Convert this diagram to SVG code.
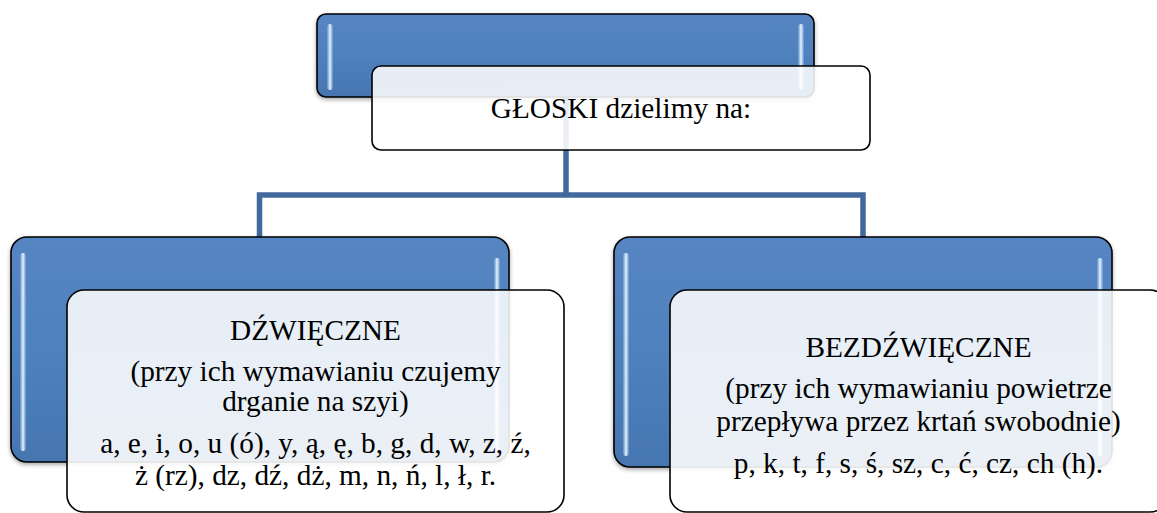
<svg xmlns="http://www.w3.org/2000/svg" width="1157" height="513" viewBox="0 0 1157 513">
<style>
.blue{fill:url(#gBlue);stroke:#000;stroke-width:1.6;filter:url(#sh)}
.hl{fill:url(#gHl)}
.white{fill:url(#gWhite);stroke:#000;stroke-width:1.6}
.conn{fill:none;stroke:#41699b;stroke-width:5.5;stroke-linejoin:miter}
.t{font-family:'Liberation Serif','DejaVu Serif',serif;font-size:29.3px;fill:#000;text-anchor:middle}
</style>
<defs>
<linearGradient id="gBlue" x1="0" y1="0" x2="0" y2="1">
<stop offset="0" stop-color="#5585c2"/>
<stop offset="0.5" stop-color="#4f81bd"/>
<stop offset="1" stop-color="#4676b0"/>
</linearGradient>
<linearGradient id="gHl" x1="0" y1="0" x2="1" y2="0">
<stop offset="0" stop-color="#9cc4ee" stop-opacity="0.3"/>
<stop offset="0.5" stop-color="#eef7ff" stop-opacity="1"/>
<stop offset="1" stop-color="#9cc4ee" stop-opacity="0.3"/>
</linearGradient>
<linearGradient id="gWhite" x1="0" y1="0" x2="0" y2="1">
<stop offset="0" stop-color="#ffffff" stop-opacity="0.86"/>
<stop offset="1" stop-color="#ffffff" stop-opacity="0.9"/>
</linearGradient>
<filter id="sh" x="-5%" y="-5%" width="110%" height="115%">
<feDropShadow dx="0" dy="2" stdDeviation="2" flood-color="#000" flood-opacity="0.35"/>
</filter>
</defs>

<g id="connectors">
<path class="conn" d="M259.5,238 V195 H863 V238 M566,97 V195"/>
</g>

<g id="node-top">
<rect class="blue" x="317" y="14" width="497" height="83" rx="9"/>
<rect class="hl" x="327" y="24" width="6" height="66" rx="3"/>
<rect class="hl" x="798" y="24" width="6" height="66" rx="3"/>
<rect class="white" x="372" y="66" width="498" height="84" rx="9"/>
<text class="t" font-family="Liberation Serif, serif" x="621" y="118">GŁOSKI dzielimy na:</text>
</g>

<g id="node-left" font-family="Liberation Serif, serif">
<rect class="blue" x="11" y="237" width="498" height="225" rx="16"/>
<rect class="hl" x="20" y="253" width="6" height="198" rx="3"/>
<rect class="hl" x="494" y="258" width="6" height="193" rx="3"/>
<rect class="white" x="67" y="290" width="497" height="222" rx="17"/>
<text class="t" x="315.5" y="340">DŹWIĘCZNE</text>
<text class="t" x="315.5" y="381">(przy ich wymawianiu czujemy</text>
<text class="t" x="315.5" y="411">drganie na szyi)</text>
<text class="t" x="315.5" y="453.3">a, e, i, o, u (ó), y, ą, ę, b, g, d, w, z, ź,</text>
<text class="t" x="315.5" y="485">ż (rz), dz, dź, dż, m, n, ń, l, ł, r.</text>
</g>

<g id="node-right" font-family="Liberation Serif, serif">
<rect class="blue" x="614" y="237" width="498" height="230" rx="16"/>
<rect class="hl" x="623" y="253" width="6" height="203" rx="3"/>
<rect class="hl" x="1097" y="258" width="6" height="198" rx="3"/>
<rect class="white" x="670" y="290" width="497" height="222" rx="17"/>
<text class="t" x="918.5" y="357.3">BEZDŹWIĘCZNE</text>
<text class="t" x="918.5" y="398.3">(przy ich wymawianiu powietrze</text>
<text class="t" x="918.5" y="431">przepływa przez krtań swobodnie)</text>
<text class="t" x="918.5" y="473.3">p, k, t, f, s, ś, sz, c, ć, cz, ch (h).</text>
</g>
</svg>
